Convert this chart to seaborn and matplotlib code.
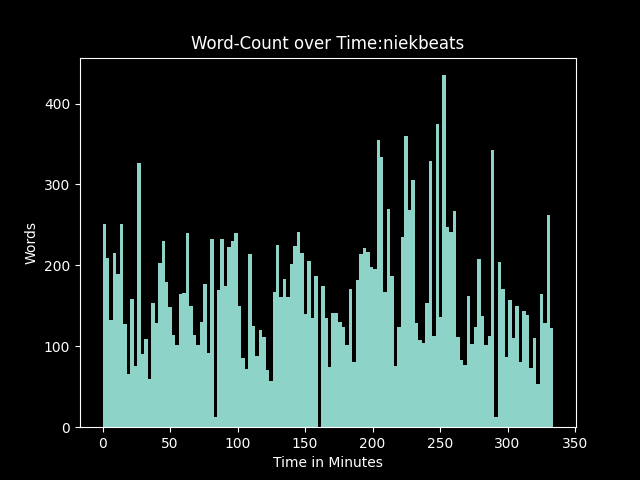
import matplotlib
matplotlib.use("Agg")
import matplotlib.pyplot as plt
import numpy as np
import seaborn as sns

# word counts per time bin, 130 bins over 0..334 minutes
WORDS = [
    251, 209, 133, 215, 189, 251, 128, 66, 158, 76,
    326, 90, 109, 60, 153, 129, 203, 230, 180, 148,
    114, 101, 164, 166, 240, 150, 114, 101, 130, 177,
    92, 233, 12, 169, 233, 175, 223, 230, 240, 150,
    86, 72, 214, 125, 88, 120, 112, 71, 57, 167,
    225, 161, 183, 161, 202, 224, 241, 215, 140, 205,
    135, 187, 0, 175, 135, 74, 141, 141, 130, 124,
    102, 171, 80, 182, 214, 221, 216, 198, 195, 355,
    334, 167, 270, 187, 76, 124, 235, 360, 269, 306,
    129, 108, 104, 153, 329, 113, 375, 136, 435, 248,
    241, 267, 112, 83, 77, 162, 103, 124, 208, 137,
    101, 113, 342, 13, 204, 171, 87, 157, 110, 150,
    81, 144, 139, 73, 110, 54, 165, 129, 262, 123,
]
T_MAX = 334.0
N_BINS = len(WORDS)

edges = np.linspace(0, T_MAX, N_BINS + 1)
minutes = (edges[:-1] + edges[1:]) / 2

plt.style.use("dark_background")
fig, ax = plt.subplots(figsize=(6.4, 4.8), dpi=100)

sns.histplot(
    x=minutes,
    weights=WORDS,
    bins=N_BINS,
    binrange=(0, T_MAX),
    color="#8dd3c7",
    alpha=1,
    linewidth=0,
    ax=ax,
)

ax.set_title("Word-Count over Time:niekbeats")
ax.set_xlabel("Time in Minutes")
ax.set_ylabel("Words")

plt.savefig("out.png", dpi=100)
